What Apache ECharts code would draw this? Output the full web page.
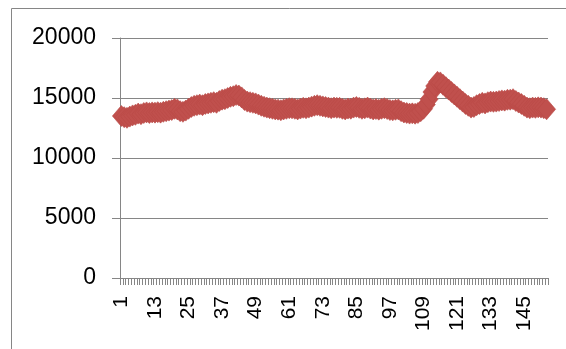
<!DOCTYPE html>
<html>
<head>
<meta charset="utf-8">
<script src="https://cdn.jsdelivr.net/npm/echarts@6/dist/echarts.min.js"></script>
<style>
  html, body { margin: 0; padding: 0; background: #fff; }
  #chart { width: 566px; height: 349px; }
</style>
</head>
<body>
<div id="chart"></div>
<script>
// Sample numbers 1..153 on the category axis
const categories = [];
for (let i = 1; i <= 153; i++) categories.push(String(i));

// Measured values, one per sample
const values = [
  13500, 13400, 13350, 13450, 13550, 13600, 13700, 13650, 13750, 13800,
  13750, 13800, 13780, 13820, 13780, 13850, 13900, 13950, 14000, 14100,
  14050, 13900, 13850, 13950, 14100, 14250, 14350, 14400, 14450, 14400,
  14500, 14550, 14600, 14650, 14600, 14750, 14860, 14900, 15000, 15100,
  15150, 15250, 15200, 15050, 14830, 14700, 14650, 14600, 14550, 14450,
  14350, 14270, 14200, 14150, 14100, 14050, 14030, 13980, 14050, 14100,
  14150, 14140, 14100, 14050, 14120, 14180, 14140, 14200, 14280, 14350,
  14400, 14350, 14300, 14250, 14200, 14150, 14200, 14180, 14180, 14100,
  14050, 14120, 14110, 14200, 14250, 14180, 14100, 14140, 14200, 14120,
  14050, 14080, 14030, 14100, 14150, 14080, 14000, 13970, 14020, 14050,
  13900, 13790, 13750, 13700, 13720, 13690, 13750, 13900, 14100, 14450,
  14900, 15500, 16000, 16350, 16300, 16100, 15900, 15700, 15500, 15300,
  15100, 14900, 14700, 14500, 14350, 14200, 14250, 14400, 14500, 14600,
  14550, 14650, 14700, 14680, 14700, 14750, 14800, 14780, 14850, 14860,
  14900, 14750, 14620, 14500, 14350, 14200, 14150, 14200, 14180, 14220,
  14200, 14150, 14060
];

// Value axis ticks
const yMin = 0, yMax = 20000, yStep = 5000;

const axisGrey = '#868686';
const seriesRed = '#C0504D';
const labelFont = 'Liberation Sans';

const chart = echarts.init(document.getElementById('chart'), null, { renderer: 'canvas' });
chart.setOption({
  animation: false,
  backgroundColor: '#ffffff',
  graphic: [{
    type: 'rect',
    shape: { x: 11.5, y: 8.5, width: 700, height: 500 },
    style: { fill: 'none', stroke: axisGrey, lineWidth: 1 },
    silent: true
  }],
  grid: { left: 120, right: 18, top: 38, bottom: 71, containLabel: false },
  xAxis: {
    type: 'category',
    data: categories,
    boundaryGap: true,
    axisLine: { show: true, lineStyle: { color: axisGrey, width: 1 } },
    axisTick: { show: true, interval: 0, length: 7, inside: false, alignWithLabel: false,
                lineStyle: { color: axisGrey, width: 1 } },
    axisLabel: { interval: 11, rotate: 90, margin: 18, color: '#000',
                 fontFamily: labelFont, fontSize: 21 },
    splitLine: { show: false }
  },
  yAxis: {
    type: 'value',
    min: yMin, max: yMax, interval: yStep,
    axisLine: { show: true, lineStyle: { color: axisGrey, width: 1 } },
    axisTick: { show: true, length: 8, lineStyle: { color: axisGrey, width: 1 } },
    axisLabel: { margin: 24, color: '#000', fontFamily: labelFont, fontSize: 23,
                 formatter: v => String(v) },
    splitLine: { show: true, lineStyle: { color: axisGrey, width: 1 } }
  },
  series: [{
    type: 'line',
    data: values,
    symbol: 'diamond',
    symbolSize: [18, 21],
    showAllSymbol: true,
    itemStyle: { color: seriesRed, borderColor: '#B94946', borderWidth: 0.6 },
    lineStyle: { color: seriesRed, width: 3 }
  }]
});
</script>
</body>
</html>
